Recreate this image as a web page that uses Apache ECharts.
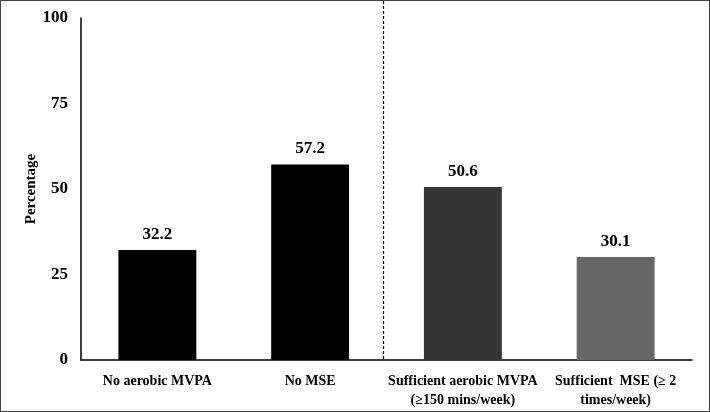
<!DOCTYPE html>
<html>
<head>
<meta charset="utf-8">
<script src="https://cdn.jsdelivr.net/npm/echarts@6/dist/echarts.min.js"></script>
<style>
html,body{margin:0;padding:0;background:#fff;}
#c{width:710px;height:412px;box-sizing:border-box;border:1px solid #444;}
</style>
</head>
<body>
<div id="c"></div>
<script>
const categories = ["No aerobic MVPA", "No MSE", "Sufficient aerobic MVPA\n(\u2265150 mins/week)", "Sufficient  MSE (\u2265 2\ntimes/week)"];
const values = [32.2, 57.2, 50.6, 30.1];
const barColors = ["#000000", "#000000", "#363636", "#666666"];
const yTicks = [0, 25, 50, 75, 100];

const font = "'Liberation Serif', 'Times New Roman', serif";
const chart = echarts.init(document.getElementById('c'));
chart.setOption({
  animation: false,
  grid: {left: 80, right: 17, top: 17, bottom: 51},
  xAxis: {
    type: 'category',
    data: categories,
    axisLine: {lineStyle: {color: '#000', width: 1.5}},
    axisTick: {show: false},
    axisLabel: {color: '#000', fontFamily: font, fontWeight: 'bold', fontSize: 14, margin: 12, lineHeight: 19, interval: 0}
  },
  yAxis: {
    type: 'value',
    min: yTicks[0], max: yTicks[yTicks.length - 1], interval: 25,
    name: 'Percentage',
    nameLocation: 'middle',
    nameGap: 42,
    nameMoveOverlap: false,
    nameTextStyle: {color: '#000', fontFamily: font, fontWeight: 'bold', fontSize: 15},
    axisLine: {show: true, lineStyle: {color: '#000', width: 1.5}},
    axisTick: {show: false},
    splitLine: {show: false},
    axisLabel: {color: '#000', fontFamily: font, fontWeight: 'bold', fontSize: 17, margin: 13}
  },
  series: [{
    type: 'bar',
    barWidth: '51%',
    data: values.map((v, i) => ({value: v, itemStyle: {color: barColors[i]}})),
    label: {show: true, position: 'top', distance: 7, color: '#000', fontFamily: font, fontWeight: 'bold', fontSize: 17, formatter: p => p.value.toFixed(1)}
  }]
});
// dashed separator between the 2nd and 3rd category
const p1 = chart.convertToPixel({xAxisIndex: 0}, 1);
const p2 = chart.convertToPixel({xAxisIndex: 0}, 2);
const y0 = chart.convertToPixel({yAxisIndex: 0}, 0);
const sx = (p1 + p2) / 2 - 3;
chart.setOption({
  graphic: [{
    type: 'line', silent: true,
    shape: {x1: sx, y1: 0, x2: sx, y2: y0},
    style: {stroke: '#000', lineWidth: 1.2, lineDash: [3, 2]}
  }]
});
</script>
</body>
</html>
